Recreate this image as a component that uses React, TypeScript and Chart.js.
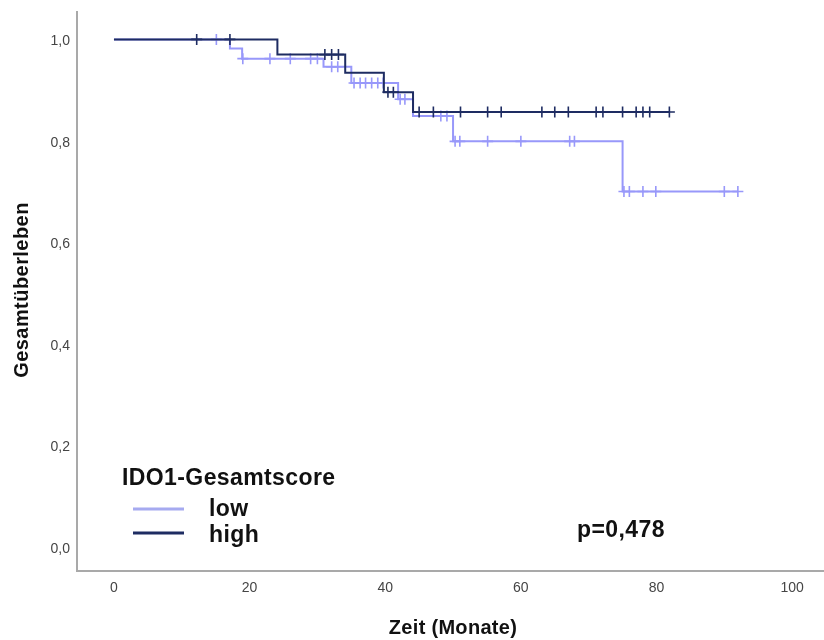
import React, { useEffect, useRef } from "react";
import { Chart, registerables } from "chart.js";

Chart.register(...registerables);

// ---- data ----
const xTickValues = [0, 20, 40, 60, 80, 100];
const yTickValues = [0, 0.2, 0.4, 0.6, 0.8, 1.0];

const lowEventTimes = [0, 17.1, 18.9, 30.9, 35.0, 41.9, 44.1, 50.0, 75.0];
const lowSurvival = [1.0, 0.982, 0.962, 0.946, 0.914, 0.882, 0.849, 0.799, 0.7];
const lowCensorTimes = [
  15.1, 19.0, 23.0, 26.0, 29.0, 30.0, 32.1, 33.0, 35.4, 36.3, 37.1, 38.0, 38.9,
  39.7, 42.2, 42.9, 48.2, 49.1, 50.3, 51.0, 55.1, 60.0, 67.2, 67.9, 75.2, 76.0,
  78.0, 79.9, 90.0, 92.0,
];
const lowEndTime = 92.0;

const highEventTimes = [0, 24.1, 34.1, 39.8, 44.1];
const highSurvival = [1.0, 0.97, 0.934, 0.896, 0.857];
const highCensorTimes = [
  12.2, 17.1, 31.1, 32.1, 33.1, 40.4, 41.2, 45.0, 47.1, 51.1, 55.1, 57.1, 63.1,
  65.0, 67.0, 71.1, 72.1, 75.0, 77.0, 78.0, 79.0, 81.9,
];
const highEndTime = 81.9;

const groupLabels = ["low", "high"];
const legendTitle = "IDO1-Gesamtscore";
const pValueText = "p=0,478";
const xAxisTitle = "Zeit (Monate)";
const yAxisTitle = "Gesamtüberleben";

// ---- helpers ----
const LOW_COLOR = "#9898fa";
const LOW_LEGEND_COLOR = "#a6aaf0";
const HIGH_COLOR = "#1e2c62";
const FONT = "'Liberation Sans', Arial, sans-serif";

function survAt(times: number[], surv: number[], t: number) {
  let s = surv[0];
  for (let i = 0; i < times.length; i++) if (times[i] <= t) s = surv[i];
  return s;
}
function stepPoints(times: number[], surv: number[], end: number) {
  const pts = times.map((t, i) => ({ x: t, y: surv[i] }));
  pts.push({ x: end, y: surv[surv.length - 1] });
  return pts;
}
function censorPoints(times: number[], surv: number[], censors: number[]) {
  return censors.map((t) => ({ x: t, y: survAt(times, surv, t) }));
}

const annotPlugin = {
  id: "annot",
  afterDraw(chart: any) {
    const ctx = chart.ctx as any;
    ctx.save();
    ctx.fillStyle = "#111";
    // axis titles
    ctx.font = `bold 20px ${FONT}`;
    ctx.letterSpacing = "0.3px";
    ctx.textAlign = "center";
    ctx.textBaseline = "alphabetic";
    ctx.fillText(xAxisTitle, 453, 634);
    ctx.save();
    ctx.translate(28, 290);
    ctx.rotate(-Math.PI / 2);
    ctx.letterSpacing = "0.45px";
    ctx.fillText(yAxisTitle, 0, 0);
    ctx.restore();
    // legend
    ctx.textAlign = "left";
    ctx.font = `bold 23px ${FONT}`;
    ctx.letterSpacing = "0.4px";
    ctx.fillText(legendTitle, 122, 485);
    const colors = [LOW_LEGEND_COLOR, HIGH_COLOR];
    const lineYs = [509, 533];
    const textYs = [516, 542];
    groupLabels.forEach((lab, i) => {
      ctx.strokeStyle = colors[i];
      ctx.lineWidth = 3;
      ctx.beginPath();
      ctx.moveTo(133, lineYs[i]);
      ctx.lineTo(184, lineYs[i]);
      ctx.stroke();
      ctx.fillText(lab, 209, textYs[i]);
    });
    // p-value
    ctx.fillText(pValueText, 577, 537);
    ctx.restore();
  },
};

export default function App() {
  const ref = useRef<HTMLCanvasElement | null>(null);
  useEffect(() => {
    if (!ref.current) return;
    const chart = new Chart(ref.current, {
      type: "line",
      data: {
        datasets: [
          {
            label: "high",
            data: stepPoints(highEventTimes, highSurvival, highEndTime),
            borderColor: HIGH_COLOR,
            borderWidth: 2,
            stepped: "before",
            pointRadius: 0,
            fill: false,
            order: 0,
          },
          {
            label: "high censored",
            data: censorPoints(highEventTimes, highSurvival, highCensorTimes),
            borderColor: HIGH_COLOR,
            backgroundColor: HIGH_COLOR,
            showLine: false,
            pointStyle: "cross",
            pointRadius: 5.5,
            pointBorderWidth: 1.6,
            order: 0,
          },
          {
            label: "low",
            data: stepPoints(lowEventTimes, lowSurvival, lowEndTime),
            borderColor: LOW_COLOR,
            borderWidth: 2,
            stepped: "before",
            pointRadius: 0,
            fill: false,
            order: 1,
          },
          {
            label: "low censored",
            data: censorPoints(lowEventTimes, lowSurvival, lowCensorTimes),
            borderColor: LOW_COLOR,
            backgroundColor: LOW_COLOR,
            showLine: false,
            pointStyle: "cross",
            pointRadius: 5.5,
            pointBorderWidth: 1.6,
            order: 1,
          },
        ],
      },
      options: {
        animation: false,
        responsive: false,
        maintainAspectRatio: false,
        layout: { autoPadding: false, padding: { top: 12, right: 0, left: 0, bottom: 0 } },
        plugins: { legend: { display: false }, tooltip: { enabled: false } },
        scales: {
          x: {
            type: "linear",
            min: -5.45,
            max: 104.7,
            grid: { display: false, drawTicks: false },
            border: { display: true, color: "#a9a9a9", width: 2 },
            afterFit: (s: any) => {
              s.height = 69;
              s.paddingLeft = 0;
              s.paddingRight = 0;
              s.paddingTop = 0;
              s.paddingBottom = 0;
            },
            afterBuildTicks: (s: any) => {
              s.ticks = xTickValues.map((v) => ({ value: v }));
            },
            ticks: {
              padding: 9,
              color: "#454545",
              font: { family: FONT, size: 14 },
              callback: (v: any) => String(v),
            },
          },
          y: {
            type: "linear",
            min: -0.048,
            max: 1.054,
            grid: { display: false, drawTicks: false },
            border: { display: true, color: "#a9a9a9", width: 2 },
            afterFit: (s: any) => {
              s.width = 77;
              s.paddingLeft = 0;
              s.paddingRight = 0;
              s.paddingTop = 0;
              s.paddingBottom = 0;
            },
            afterBuildTicks: (s: any) => {
              s.ticks = yTickValues.map((v) => ({ value: v }));
            },
            ticks: {
              padding: 7,
              labelOffset: 2,
              color: "#454545",
              font: { family: FONT, size: 14 },
              callback: (v: any) => Number(v).toFixed(1).replace(".", ","),
            },
          },
        },
      },
      plugins: [annotPlugin],
    });
    return () => chart.destroy();
  }, []);
  return (
    <div style={{ position: "fixed", left: 0, top: 0, width: 824, height: 640, background: "#fff" }}>
      <canvas ref={ref} width={824} height={640} style={{ width: 824, height: 640 }} />
    </div>
  );
}
